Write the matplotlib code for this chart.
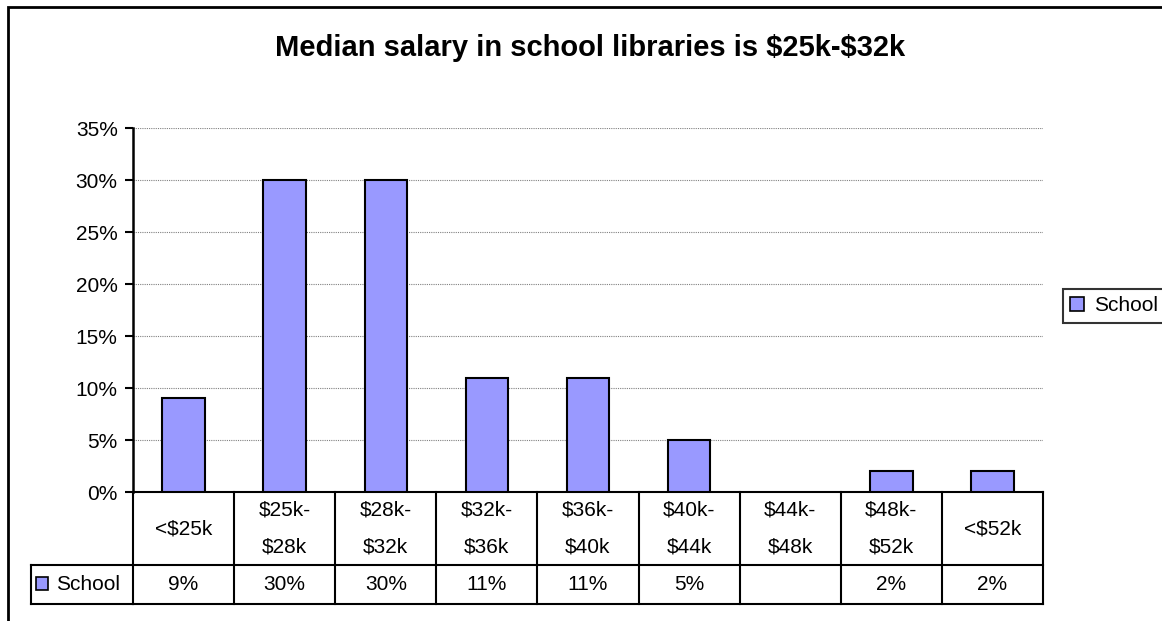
import numpy as np
import matplotlib
matplotlib.use('Agg')
import matplotlib.pyplot as plt
from matplotlib.patches import Rectangle
from matplotlib.transforms import blended_transform_factory

plt.rcParams['font.family'] = ['Liberation Sans', 'DejaVu Sans']

title = 'Median salary in school libraries is $25k-$32k'
categories = ['<$25k', '$25k-\n$28k', '$28k-\n$32k', '$32k-\n$36k', '$36k-\n$40k',
              '$40k-\n$44k', '$44k-\n$48k', '$48k-\n$52k', '<$52k']
school = [9, 30, 30, 11, 11, 5, np.nan, 2, 2]
series_name = 'School'
yticks = [0, 5, 10, 15, 20, 25, 30, 35]

BAR = '#9999FF'
FS = 15
W, H = 1162, 621

fig = plt.figure(figsize=(W / 100, H / 100), dpi=100)

def fx(px):
    return px / W

def fy(py):
    return 1 - py / H

# chart-area border (runs off the right and bottom edges)
fig.patches.append(Rectangle((fx(8), fy(H + 20)), fx(W + 20), fy(7) - fy(H + 20),
                             transform=fig.transFigure, fill=False, ec='black', lw=2))

ax = fig.add_axes([fx(133), fy(492), fx(1043) - fx(133), fy(128) - fy(492)])
x = np.arange(len(categories))
ax.bar(x, school, width=0.42, color=BAR, edgecolor='black', linewidth=1.5, zorder=3)
ax.set_xlim(-0.5, len(categories) - 0.5)
ax.set_ylim(0, 35)
ax.set_yticks(yticks)
ax.set_yticklabels([f'{t}%' for t in yticks], fontsize=FS)
ax.set_xticks([])
ax.tick_params(axis='y', direction='out', length=6, width=1.5, pad=5)
for s in ['top', 'right', 'bottom']:
    ax.spines[s].set_visible(False)
ax.spines['left'].set_linewidth(1.8)
for t in yticks[1:]:
    ax.axhline(t, color='#808080', lw=0.8, ls=(0, (1, 1)), zorder=1)

# data table under the plot
tr = blended_transform_factory(ax.transData, fig.transFigure)
y_top, y_mid, y_bot = fy(492), fy(565), fy(604)
lk = dict(color='black', lw=1.5, clip_on=False, solid_capstyle='projecting')
for yy in (y_top, y_mid, y_bot):
    ax.plot([-0.5, len(categories) - 0.5], [yy, yy], transform=tr, **lk)
for b in np.arange(len(categories) + 1) - 0.5:
    ax.plot([b, b], [y_top, y_bot], transform=tr, **lk)
fig.add_artist(plt.Line2D([fx(31), fx(133)], [y_mid, y_mid], color='black', lw=1.5))
fig.add_artist(plt.Line2D([fx(31), fx(133)], [y_bot, y_bot], color='black', lw=1.5))
fig.add_artist(plt.Line2D([fx(31), fx(31)], [y_mid, y_bot], color='black', lw=1.5))

for i, (c, v) in enumerate(zip(categories, school)):
    ax.text(i, (y_top + y_mid) / 2, c, transform=tr, ha='center', va='center',
            fontsize=FS, linespacing=2.25, parse_math=False)
    if not np.isnan(v):
        ax.text(i, (y_mid + y_bot) / 2, f'{v:g}%', transform=tr, ha='center',
                va='center', fontsize=FS)

# series key in the table header
fig.patches.append(Rectangle((fx(36), fy(590)), fx(12), fy(577) - fy(590),
                             transform=fig.transFigure, fc=BAR, ec='black', lw=1.2))
fig.text(fx(56), (y_mid + y_bot) / 2, series_name, ha='left', va='center', fontsize=FS)

# legend
leg = fig.legend([Rectangle((0, 0), 1, 1, fc=BAR, ec='black', lw=1.2)], [series_name],
                 loc='upper left', bbox_to_anchor=(fx(1063), fy(289)), fontsize=FS,
                 frameon=True, fancybox=False, handlelength=0.65, handleheight=0.65,
                 handletextpad=0.5, borderpad=0.35, borderaxespad=0)
leg.get_frame().set_edgecolor('black')
leg.get_frame().set_linewidth(1.5)

fig.text(fx(590), fy(48), title, ha='center', va='center', fontsize=21,
         fontweight='bold', parse_math=False)

fig.savefig('out.png', dpi=100)
